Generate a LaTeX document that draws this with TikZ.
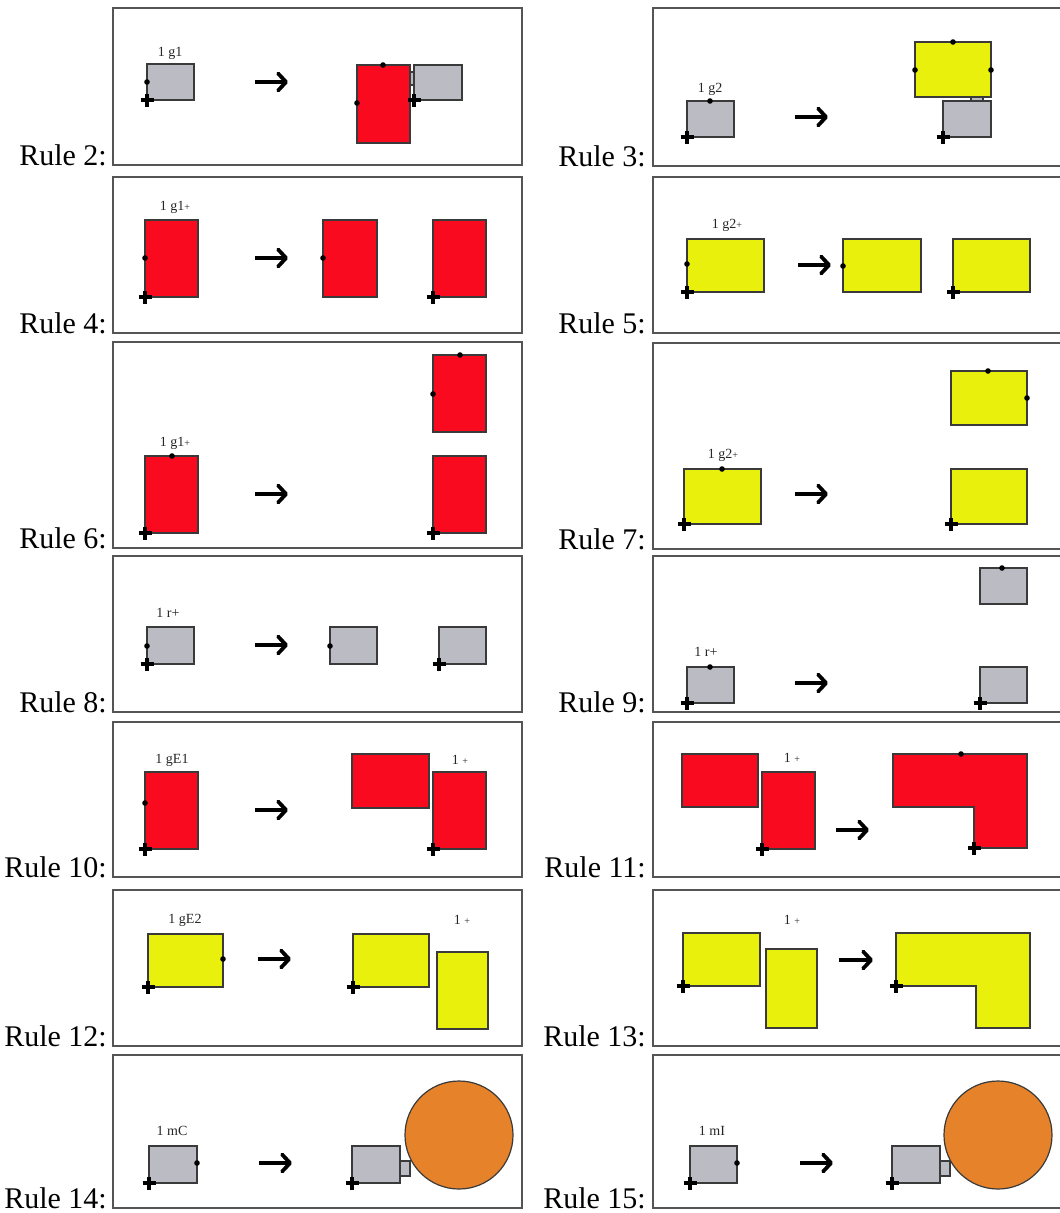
\documentclass[tikz,border=0pt]{standalone}
\usepackage{fontspec}
\setmainfont{Liberation Serif}
\usetikzlibrary{arrows.meta}
\definecolor{gfill}{HTML}{BBBBC4}
\definecolor{rfill}{HTML}{F90A1E}
\definecolor{yfill}{HTML}{E9F00C}
\definecolor{ofill}{HTML}{E6822A}
\definecolor{frm}{HTML}{555555}
\definecolor{edgec}{HTML}{3A3A3A}
\newcommand{\smallplus}{{\fontsize{10}{10}\selectfont +}}
\newcommand{\rrect}[5]{\draw[#1] (#2,#3) rectangle (#4,#5);}
\newcommand{\dotat}[2]{\fill (#1,#2) circle (2.8);}
\newcommand{\crossat}[2]{\draw[crossline] (#1-6.5,#2) -- (#1+6.5,#2) (#1,#2-6) -- (#1,#2+7);}
\tikzset{
 rframe/.style={draw=frm, line width=2pt},
 gb/.style={fill=gfill, draw=edgec, line width=1.2pt},
 rb/.style={fill=rfill, draw=edgec, line width=1.2pt},
 yb/.style={fill=yfill, draw=edgec, line width=1.2pt},
 ob/.style={fill=ofill, draw=edgec, line width=1.2pt},
 rulelab/.style={anchor=base east, inner sep=0pt, font=\fontsize{30}{30}\selectfont},
 smalltag/.style={inner sep=0pt, font=\fontsize{14}{14}\selectfont, text=black!85},
 rulearrow/.style={line width=3.8pt, -{Straight Barb[length=8pt,width=17pt,line join=round,line cap=round]}},
 crossline/.style={line width=3.4pt},
}
\begin{document}
\begin{tikzpicture}[x=1pt,y=-1pt]
\useasboundingbox (0,0) rectangle (1060,1213);
\fill[white] (0,0) rectangle (1060,1213);

% ---------- frames and labels ----------
\foreach \n/\t/\b [count=\i] in {2/8/165,4/177/333,6/342/548,8/556/712,10/722/877,12/890/1046,14/1055/1208}{
  \draw[rframe] (113,\t) rectangle (522,\b);
  \node[rulelab] (labL\i) at (107,\b) {Rule \n:};
}
\foreach \n/\t/\b [count=\i] in {3/8/166,5/177/333,7/343/549,9/556/712,11/722/877,13/890/1046,15/1055/1208}{
  \draw[rframe] (653,\t) rectangle (1063,\b);
  \node[rulelab] (labR\i) at (646,\b) {Rule \n:};
}

% ---------- Rule 2 ----------
\node[smalltag] (t2) at (170,53) {1 g1};
\rrect{gb}{147}{64}{194}{100}
\dotat{147}{82}\crossat{147}{100}
\coordinate (a2s) at (255,82); \coordinate (a2e) at (288,82);
\draw[rulearrow] (a2s) -- (a2e);
\rrect{rb}{357}{65}{410}{143}
\rrect{gb}{410}{72}{414}{85}
\rrect{gb}{414}{65}{462}{100}
\dotat{383}{65}\dotat{357}{103}\crossat{414}{100}

% ---------- Rule 3 ----------
\node[smalltag] (t3) at (710,89) {1 g2};
\rrect{gb}{687}{101}{734}{137}
\dotat{710}{101}\crossat{687}{137}
\coordinate (a3s) at (795,117); \coordinate (a3e) at (828,117);
\draw[rulearrow] (a3s) -- (a3e);
\rrect{yb}{915}{42}{991}{97}
\rrect{gb}{971}{97}{983}{101}
\rrect{gb}{943}{101}{991}{137}
\dotat{953}{42}\dotat{915}{70}\dotat{991}{70}\crossat{943}{137}

% ---------- Rule 4 ----------
\node[smalltag] (t4) at (175,207) {1 g1\smallplus};
\rrect{rb}{145}{220}{198}{297}
\dotat{145}{258}\crossat{145}{297}
\coordinate (a4s) at (255,258); \coordinate (a4e) at (288,258);
\draw[rulearrow] (a4s) -- (a4e);
\rrect{rb}{323}{220}{377}{297}\dotat{323}{258}
\rrect{rb}{433}{220}{486}{297}\crossat{433}{297}

% ---------- Rule 5 ----------
\node[smalltag] (t5) at (727,225) {1 g2\smallplus};
\rrect{yb}{687}{239}{764}{292}
\dotat{687}{264}\crossat{687}{292}
\coordinate (a5s) at (798,265); \coordinate (a5e) at (831,265);
\draw[rulearrow] (a5s) -- (a5e);
\rrect{yb}{843}{239}{921}{292}\dotat{843}{266}
\rrect{yb}{953}{239}{1030}{292}\crossat{953}{292}

% ---------- Rule 6 ----------
\node[smalltag] (t6) at (175,443) {1 g1\smallplus};
\rrect{rb}{145}{456}{198}{533}
\dotat{172}{456}\crossat{145}{533}
\coordinate (a6s) at (255,494); \coordinate (a6e) at (288,494);
\draw[rulearrow] (a6s) -- (a6e);
\rrect{rb}{433}{355}{486}{432}\dotat{460}{355}\dotat{433}{394}
\rrect{rb}{433}{456}{486}{533}\crossat{433}{533}

% ---------- Rule 7 ----------
\node[smalltag] (t7) at (723,455) {1 g2\smallplus};
\rrect{yb}{684}{469}{761}{524}
\dotat{722}{469}\crossat{684}{524}
\coordinate (a7s) at (795,494); \coordinate (a7e) at (828,494);
\draw[rulearrow] (a7s) -- (a7e);
\rrect{yb}{951}{371}{1027}{425}\dotat{988}{371}\dotat{1027}{398}
\rrect{yb}{951}{469}{1027}{524}\crossat{951}{524}

% ---------- Rule 8 ----------
\node[smalltag] (t8) at (168,613) {1 r+};
\rrect{gb}{147}{627}{194}{664}
\dotat{147}{646}\crossat{147}{664}
\coordinate (a8s) at (255,645); \coordinate (a8e) at (288,645);
\draw[rulearrow] (a8s) -- (a8e);
\rrect{gb}{330}{627}{377}{664}\dotat{330}{646}
\rrect{gb}{439}{627}{486}{664}\crossat{439}{664}

% ---------- Rule 9 ----------
\node[smalltag] (t9) at (706,652) {1 r+};
\rrect{gb}{687}{667}{734}{703}
\dotat{710}{667}\crossat{687}{703}
\coordinate (a9s) at (795,683); \coordinate (a9e) at (828,683);
\draw[rulearrow] (a9s) -- (a9e);
\rrect{gb}{980}{568}{1027}{604}\dotat{1002}{568}
\rrect{gb}{980}{667}{1027}{703}\crossat{980}{703}

% ---------- Rule 10 ----------
\node[smalltag] (t10) at (172,760) {1 gE1};
\rrect{rb}{145}{772}{198}{849}
\dotat{145}{803}\crossat{145}{849}
\coordinate (a10s) at (255,810); \coordinate (a10e) at (288,810);
\draw[rulearrow] (a10s) -- (a10e);
\rrect{rb}{352}{754}{429}{808}
\node[smalltag] (t10b) at (460,760) {1 \smallplus};
\rrect{rb}{433}{772}{486}{849}\crossat{433}{849}

% ---------- Rule 11 ----------
\rrect{rb}{682}{754}{758}{807}
\node[smalltag] (t11) at (792,758) {1 \smallplus};
\rrect{rb}{762}{772}{815}{849}\crossat{762}{849}
\coordinate (a11s) at (836,830); \coordinate (a11e) at (869,830);
\draw[rulearrow] (a11s) -- (a11e);
\draw[rb] (893,754) -- (1027,754) -- (1027,848) -- (974,848) -- (974,807) -- (893,807) -- cycle;
\dotat{961}{754}\crossat{974}{848}

% ---------- Rule 12 ----------
\node[smalltag] (t12) at (185,920) {1 gE2};
\rrect{yb}{148}{934}{223}{987}
\dotat{223}{959}\crossat{148}{987}
\coordinate (a12s) at (258,959); \coordinate (a12e) at (291,959);
\draw[rulearrow] (a12s) -- (a12e);
\rrect{yb}{353}{934}{429}{987}\crossat{353}{987}
\node[smalltag] (t12b) at (462,920) {1 \smallplus};
\rrect{yb}{437}{952}{488}{1029}

% ---------- Rule 13 ----------
\node[smalltag] (t13) at (792,920) {1 \smallplus};
\rrect{yb}{683}{933}{760}{986}
\rrect{yb}{766}{949}{817}{1028}
\crossat{683}{986}
\coordinate (a13s) at (839,960); \coordinate (a13e) at (873,960);
\draw[rulearrow] (a13s) -- (a13e);
\draw[yb] (896,933) -- (1030,933) -- (1030,1028) -- (976,1028) -- (976,986) -- (896,986) -- cycle;
\crossat{896}{986}

% ---------- Rule 14 ----------
\node[smalltag] (t14) at (172,1131) {1 mC};
\rrect{gb}{149}{1146}{197}{1183}
\dotat{197}{1163}\crossat{149}{1183}
\coordinate (a14s) at (259,1163); \coordinate (a14e) at (292,1163);
\draw[rulearrow] (a14s) -- (a14e);
\rrect{gb}{400}{1161}{410}{1176}
\rrect{gb}{352}{1146}{400}{1183}\crossat{352}{1183}
\draw[ob] (459,1135) circle (54);

% ---------- Rule 15 ----------
\node[smalltag] (t15) at (712,1131) {1 mI};
\rrect{gb}{690}{1146}{737}{1183}
\dotat{737}{1163}\crossat{690}{1183}
\coordinate (a15s) at (800,1163); \coordinate (a15e) at (833,1163);
\draw[rulearrow] (a15s) -- (a15e);
\rrect{gb}{940}{1161}{950}{1176}
\rrect{gb}{892}{1146}{940}{1183}\crossat{892}{1183}
\draw[ob] (998,1135) circle (54);
\end{tikzpicture}
\end{document}
